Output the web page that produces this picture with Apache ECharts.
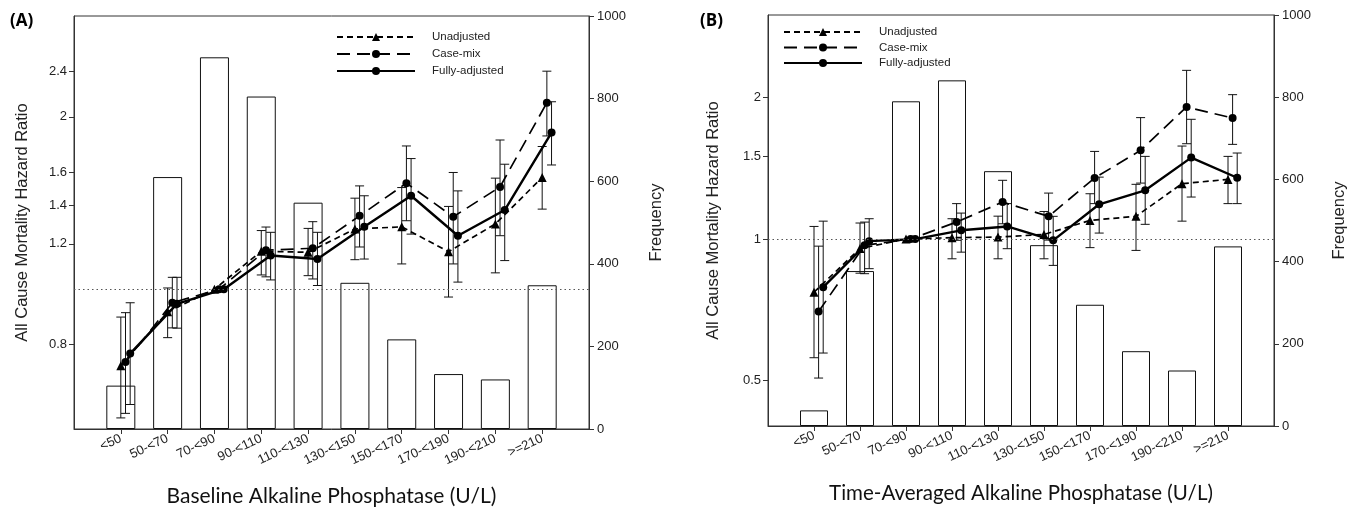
<!DOCTYPE html>
<html>
<head>
<meta charset="utf-8">
<script src="https://cdn.jsdelivr.net/npm/echarts@6/dist/echarts.min.js"></script>
<style>html,body{margin:0;padding:0;background:#fff;}#c{width:1358px;height:512px;}</style>
</head>
<body>
<div id="c"></div>
<script>
// ---------- data ----------
const categories = ['<50','50-<70','70-<90','90-<110','110-<130','130-<150','150-<170','170-<190','190-<210','>=210'];
const seriesNames = ['Unadjusted','Case-mix','Fully-adjusted'];

// Panel A: Baseline ALP
const freqA = [105, 610, 900, 805, 548, 354, 217, 133, 120, 348];
const unadjA   = [0.735, 0.913, 1.0, 1.165, 1.16, 1.274, 1.285, 1.163, 1.30, 1.567];
const unadjALo = [0.596, 0.823, null, 1.059, 1.056, 1.126, 1.107, 0.969, 1.068, 1.38];
const unadjAHi = [0.894, 1.005, null, 1.266, 1.277, 1.442, 1.505, 1.395, 1.563, 1.775];
const caseA    = [0.746, 0.947, 1.0, 1.17, 1.179, 1.343, 1.532, 1.338, 1.509, 2.117];
const caseALo  = [0.607, 0.856, null, 1.051, 1.042, 1.185, 1.317, 1.107, 1.24, 1.852];
const caseAHi  = [0.91, 1.049, null, 1.284, 1.312, 1.515, 1.779, 1.599, 1.822, 2.403];
const fullA    = [0.772, 0.943, 1.0, 1.145, 1.129, 1.285, 1.456, 1.24, 1.375, 1.877];
const fullALo  = [0.629, 0.855, null, 1.038, 1.015, 1.129, 1.248, 1.029, 1.122, 1.648];
const fullAHi  = [0.947, 1.049, null, 1.257, 1.257, 1.456, 1.691, 1.485, 1.653, 2.125];

// Panel B: Time-averaged ALP
const freqB = [38, 377, 790, 841, 620, 440, 295, 182, 135, 437];
const unadjB   = [0.771, 0.955, 1.0, 1.007, 1.01, 1.023, 1.096, 1.118, 1.312, 1.34];
const unadjBLo = [0.559, 0.846, null, 0.908, 0.908, 0.908, 0.959, 0.946, 1.092, 1.19];
const unadjBHi = [1.064, 1.082, null, 1.105, 1.119, 1.145, 1.249, 1.308, 1.578, 1.50];
const caseB    = [0.701, 0.97, 1.0, 1.087, 1.199, 1.118, 1.349, 1.545, 1.911, 1.81];
const caseBLo  = [0.506, 0.844, null, 0.994, 1.078, 0.995, 1.19, 1.316, 1.596, 1.591];
const caseBHi  = [0.966, 1.087, null, 1.19, 1.334, 1.253, 1.537, 1.814, 2.287, 2.03];
const fullB    = [0.79, 0.99, 1.0, 1.044, 1.064, 0.994, 1.186, 1.27, 1.491, 1.351];
const fullBLo  = [0.572, 0.865, null, 0.938, 0.954, 0.879, 1.03, 1.075, 1.229, 1.19];
const fullBHi  = [1.092, 1.105, null, 1.136, 1.19, 1.118, 1.355, 1.50, 1.799, 1.525];

const hrTicksA = [0.8, 1.2, 1.4, 1.6, 2, 2.4];
const hrTicksB = [0.5, 1, 1.5, 2];
const freqTicks = [0, 200, 400, 600, 800, 1000];

// ---------- styling ----------
const dodge = [0, 0.1, 0.2];
const lineStyles = [
  {type: [6, 4], width: 1.7},
  {type: [13, 7], width: 1.7},
  {type: 'solid', width: 2.4}
];
const symbols = ['triangle', 'circle', 'circle'];
const symbolSizes = [9, 8, 8];
const tickFont = {fontFamily: 'Liberation Sans, Arial, sans-serif', fontSize: 13, color: '#222'};
const axisLineStyle = {color: '#333', width: 1};

const L = Math.log;
const idx = categories.map((_, i) => i);

function lineData(vals, k) { return vals.map((v, i) => [i + dodge[k], L(v)]); }
function ciData(lo, hi, k) {
  const out = [];
  lo.forEach((v, i) => { if (v != null && hi[i] != null) out.push([i + dodge[k], L(v), L(hi[i])]); });
  return out;
}
function renderCI(params, api) {
  const x = api.value(0);
  const p1 = api.coord([x, api.value(1)]);
  const p2 = api.coord([x, api.value(2)]);
  const w = 4.5;
  const st = {stroke: '#111', lineWidth: 1};
  return {type: 'group', children: [
    {type: 'line', shape: {x1: p1[0], y1: p1[1], x2: p2[0], y2: p2[1]}, style: st},
    {type: 'line', shape: {x1: p1[0] - w, y1: p1[1], x2: p1[0] + w, y2: p1[1]}, style: st},
    {type: 'line', shape: {x1: p2[0] - w, y1: p2[1], x2: p2[0] + w, y2: p2[1]}, style: st}
  ]};
}

function panelSeries(p, freq, hr, lo, hi, barW) {
  const xi = p, yl = p * 2, yr = p * 2 + 1;
  const s = [];
  s.push({
    type: 'bar', name: 'freq' + p, xAxisIndex: xi, yAxisIndex: yr, barWidth: barW, z: 1,
    data: freq.map((v, i) => [i, v]),
    itemStyle: {color: '#fff', borderColor: '#111', borderWidth: 1}
  });
  for (let k = 0; k < 3; k++) {
    s.push({
      type: 'custom', name: 'ci' + p + k, xAxisIndex: xi, yAxisIndex: yl, z: 3,
      renderItem: renderCI, data: ciData(lo[k], hi[k], k), encode: {x: 0, y: [1, 2]}, silent: true
    });
  }
  for (let k = 0; k < 3; k++) {
    const ser = {
      type: 'line', name: seriesNames[k], xAxisIndex: xi, yAxisIndex: yl, z: 4,
      data: lineData(hr[k], k),
      symbol: symbols[k], symbolSize: symbolSizes[k], showSymbol: true,
      lineStyle: Object.assign({color: '#000'}, lineStyles[k]),
      itemStyle: {color: '#000'}
    };
    if (k === 2) {
      ser.markLine = {
        silent: true, symbol: ['none', 'none'], label: {show: false},
        lineStyle: {type: [1.5, 3], color: '#555', width: 1.2},
        data: [{yAxis: 0}]
      };
    }
    s.push(ser);
  }
  return s;
}

function xAxisDef(gi, name, fs) {
  return {
    type: 'value', gridIndex: gi, min: -1, max: 10,
    name: name, nameLocation: 'middle', nameGap: 57,
    nameTextStyle: {fontFamily: 'Lato, Open Sans, sans-serif', fontSize: fs, color: '#111'},
    axisLine: {onZero: false, lineStyle: axisLineStyle},
    axisTick: {customValues: idx, length: 5, lineStyle: axisLineStyle},
    axisLabel: Object.assign({customValues: idx, rotate: 25, margin: 9,
      formatter: v => categories[Math.round(v)]}, tickFont),
    splitLine: {show: false}
  };
}
function hrAxisDef(gi, ticks, minV, nameGap) {
  return {
    type: 'value', gridIndex: gi, position: 'left', min: L(minV), max: L(3.0),
    name: 'All Cause Mortality Hazard Ratio', nameLocation: 'middle', nameGap: nameGap,
    nameTextStyle: {fontFamily: 'Liberation Sans, Arial, sans-serif', fontSize: 16.5, color: '#222'},
    axisLine: {show: true, onZero: false, lineStyle: axisLineStyle},
    axisTick: {show: true, customValues: ticks.map(L), length: 5, lineStyle: axisLineStyle},
    axisLabel: Object.assign({customValues: ticks.map(L), margin: 7,
      formatter: v => String(parseFloat(Math.exp(v).toFixed(1)))}, tickFont),
    splitLine: {show: false}
  };
}
function freqAxisDef(gi, nameGap) {
  return {
    type: 'value', gridIndex: gi, position: 'right', min: 0, max: 1000, interval: 200,
    name: 'Frequency', nameLocation: 'middle', nameGap: nameGap, nameRotate: 90,
    nameTextStyle: {fontFamily: 'Liberation Sans, Arial, sans-serif', fontSize: 16.5, color: '#222'},
    axisLine: {show: true, onZero: false, lineStyle: axisLineStyle},
    axisTick: {show: true, length: 5, lineStyle: axisLineStyle},
    axisLabel: Object.assign({margin: 8, formatter: v => String(v)}, tickFont),
    splitLine: {show: false}
  };
}
function legendDef(left, top, gap) {
  return {
    left: left, top: top, orient: 'vertical', data: seriesNames, padding: 0,
    itemWidth: 78, itemHeight: 10, itemGap: gap,
    textStyle: {fontFamily: 'Liberation Sans, Arial, sans-serif', fontSize: 11.5, color: '#222', padding: [0, 0, 0, 12]},
    selectedMode: false
  };
}

const option = {
  animation: false,
  backgroundColor: '#fff',
  title: [
    {text: '(A)', left: 5, top: 8, textStyle: {fontFamily: 'Open Sans, sans-serif', fontSize: 17, fontWeight: 'bold', color: '#000'}},
    {text: '(B)', left: 695, top: 8, textStyle: {fontFamily: 'Open Sans, sans-serif', fontSize: 17, fontWeight: 'bold', color: '#000'}}
  ],
  legend: [legendDef(336, 31, 5), legendDef(783, 26, 3.5)],
  grid: [
    {left: 74, right: 769, top: 16, bottom: 81, show: true, borderColor: '#333', borderWidth: 1, backgroundColor: 'transparent'},
    {left: 768, right: 84, top: 15, bottom: 86, show: true, borderColor: '#333', borderWidth: 1, backgroundColor: 'transparent'}
  ],
  xAxis: [
    xAxisDef(0, 'Baseline Alkaline Phosphatase (U/L)', 21),
    xAxisDef(1, 'Time-Averaged Alkaline Phosphatase (U/L)', 20.5)
  ],
  yAxis: [
    hrAxisDef(0, hrTicksA, 0.57, 43),
    freqAxisDef(0, 59),
    hrAxisDef(1, hrTicksB, 0.40, 46),
    freqAxisDef(1, 57)
  ],
  series: [].concat(
    panelSeries(0, freqA, [unadjA, caseA, fullA], [unadjALo, caseALo, fullALo], [unadjAHi, caseAHi, fullAHi], 29),
    panelSeries(1, freqB, [unadjB, caseB, fullB], [unadjBLo, caseBLo, fullBLo], [unadjBHi, caseBHi, fullBHi], 28)
  )
};

const chart = echarts.init(document.getElementById('c'), null, {renderer: 'canvas'});
chart.setOption(option);
</script>
</body>
</html>
